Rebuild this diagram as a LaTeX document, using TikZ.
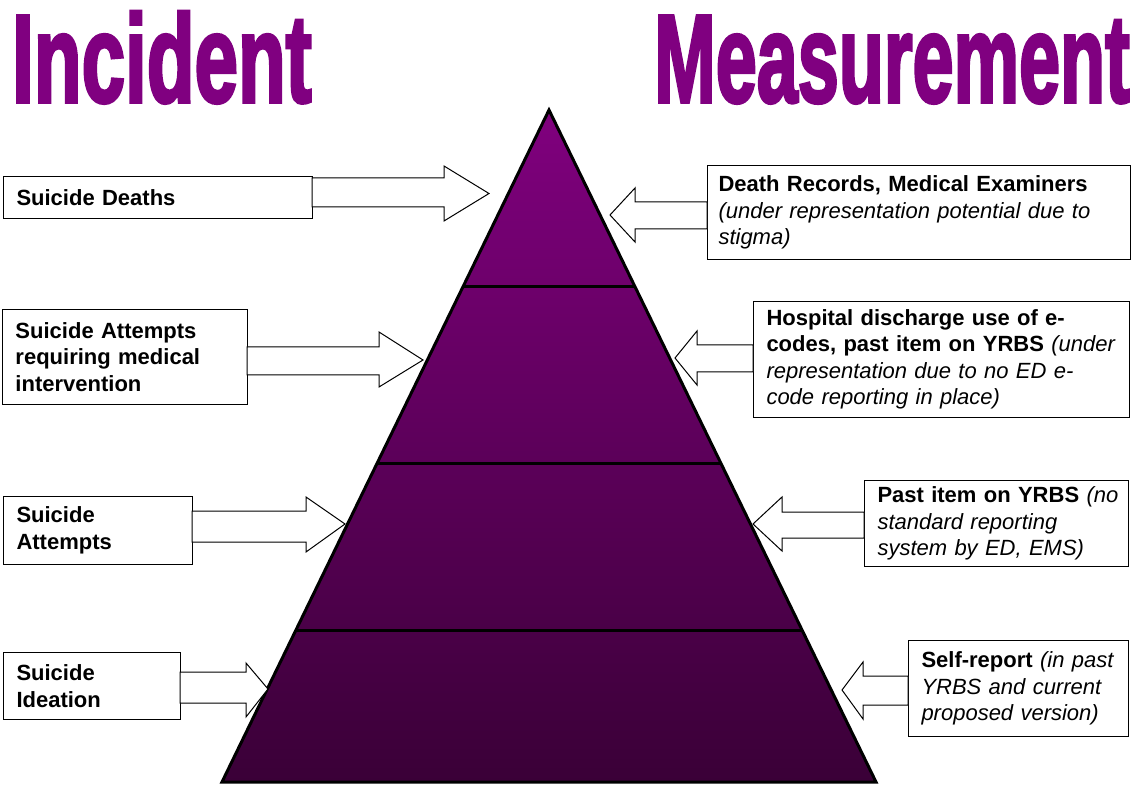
\documentclass[tikz,border=0pt]{standalone}
\usepackage{fontspec}
\setmainfont{Liberation Sans}
\newfontfamily\titlefont[BoldFeatures={FakeBold=3}]{Liberation Sans}
\definecolor{ttl}{RGB}{128,0,128}
\definecolor{ptop}{RGB}{128,0,126}
\definecolor{pbot}{RGB}{58,0,55}
\newcommand{\blockarrow}[8]{% x0, xb, xt, ys1, ys2, yh1, yh2, yt
  \draw[barrow] (#1,#4) -- (#2,#4) -- (#2,#6) -- (#3,#8) -- (#2,#7) -- (#2,#5) -- (#1,#5) -- cycle;}
\begin{document}
\begin{tikzpicture}[x=1pt,y=-1pt,
  box/.style={draw=black, line width=1pt, fill=white, inner xsep=13pt, inner ysep=0pt,
    align=left, anchor=north west, font=\fontsize{22}{26.5}\selectfont},
  barrow/.style={draw=black, line width=1pt, fill=white, line join=miter},
  ttlfont/.style={inner sep=0pt, text=ttl, font=\fontsize{125}{125}\titlefont\bfseries},
  pyrline/.style={draw=black, line width=3pt, line join=miter}]
\useasboundingbox (0,0) rectangle (1136,786);

% titles
\node[ttlfont, anchor=base west] (tI) at (12,102) {\scalebox{0.625}[1]{Incident}};
\node[ttlfont, anchor=base east] (tM) at (1130,102) {\scalebox{0.59}[1]{Measurement}};

% pyramid
\coordinate (apex) at (549,110);
\coordinate (bl) at (222,782);
\coordinate (br) at (876,782);
\shade[top color=ptop, bottom color=pbot] (apex) -- (br) -- (bl) -- cycle;
\draw[pyrline] (462.9,287) -- (635.1,287);
\draw[pyrline] (377.2,463) -- (720.8,463);
\draw[pyrline] (296,630) -- (802,630);
\draw[pyrline] (apex) -- (br) -- (bl) -- cycle;

% left boxes
\node[box, minimum width=309pt, minimum height=42pt, text width=283pt] (L1) at (3,176)
  {\bfseries Suicide Deaths};
\node[box, minimum width=245pt, minimum height=95pt, text width=219pt] (L2) at (2,309)
  {\bfseries \mbox{Suicide Attempts}\\\bfseries \mbox{requiring medical}\\\bfseries intervention};
\node[box, minimum width=189pt, minimum height=68pt, text width=163pt] (L3) at (3,496)
  {\bfseries Suicide\\\bfseries Attempts};
\node[box, minimum width=177pt, minimum height=67pt, text width=151pt] (L4) at (3,652)
  {\bfseries Suicide\\\bfseries Ideation};

% right boxes
\node[box, inner xsep=11pt, minimum width=423pt, minimum height=94pt, text width=401pt] (R1) at (707,165)
  {\mbox{\textbf{Death Records, Medical Examiners}}\\\mbox{\textit{(under representation potential due to}}\\\textit{stigma)}};
\node[box, minimum width=376pt, minimum height=116pt, text width=350pt] (R2) at (753,301)
  {\mbox{\textbf{Hospital discharge use of e-}}\\\mbox{\textbf{codes, past item on YRBS} \textit{(under}}\\\mbox{\textit{representation due to no ED e-}}\\\mbox{\textit{code reporting in place)}}};
\node[box, minimum width=264pt, minimum height=86pt, text width=238pt] (R3) at (864,480)
  {\mbox{\textbf{Past item on YRBS} \textit{(no}}\\\mbox{\textit{standard reporting}}\\\mbox{\textit{system by ED, EMS)}}};
\node[box, minimum width=220pt, minimum height=96pt, text width=194pt] (R4) at (908,640)
  {\mbox{\textbf{Self-report} \textit{(in past}}\\\mbox{\textit{YRBS and current}}\\\mbox{\textit{proposed version)}}};

% block arrows
\blockarrow{312}{444}{489}{178}{207}{166}{221}{193.5}
\blockarrow{247}{379}{423}{347}{375}{332}{387}{360}
\blockarrow{192}{306}{345}{511}{542}{497}{552}{524}
\blockarrow{180}{246}{268}{672}{703}{663}{717}{689}
\blockarrow{707}{635}{610}{202}{229}{188}{242}{215}
\blockarrow{753}{697}{675}{345}{372}{331}{385}{358}
\blockarrow{864}{782}{753}{512}{538}{497}{551}{524}
\blockarrow{908}{863}{842}{676}{705}{662}{719}{690}
\end{tikzpicture}
\end{document}
